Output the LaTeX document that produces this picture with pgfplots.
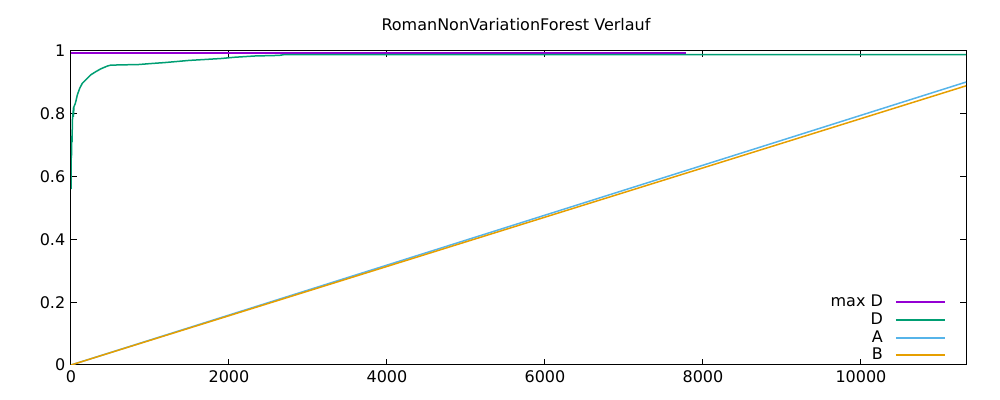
\documentclass[border=0pt]{standalone}
\usepackage{fontspec}
\setmainfont{DejaVu Sans}
\usepackage{pgfplots}
\pgfplotsset{compat=1.18}
\definecolor{colmaxd}{rgb}{0.58,0,0.827}
\definecolor{cold}{rgb}{0,0.62,0.451}
\definecolor{cola}{rgb}{0.337,0.706,0.914}
\definecolor{colb}{rgb}{0.902,0.624,0}
\begin{document}
\fontsize{8pt}{9.6pt}\selectfont
\begin{tikzpicture}
\useasboundingbox (0,0) rectangle (500pt,200pt);
\begin{axis}[
  at={(35.5pt,17.5pt)}, anchor=south west,
  scale only axis, width=447.5pt, height=157pt,
  xmin=0, xmax=11330, ymin=0, ymax=1,
  xtick={0,2000,4000,6000,8000,10000},
  ytick={0,0.2,0.4,0.6,0.8,1},
  tick align=inside, tick pos=both,
  major tick length=3pt,
  scaled ticks=false,
  /pgf/number format/1000 sep={},
  /pgf/number format/assume math mode=true,
  tick label style={font=\fontsize{8pt}{9.6pt}\selectfont},
  axis line style={line width=0.5pt, black},
  every tick/.style={black, line width=0.5pt},
  legend cell align=right,
  legend plot pos=right,
  legend style={draw=none, fill=none, at={(rel axis cs:0.98,-0.012)}, anchor=south east,
    font=\fontsize{8pt}{9.6pt}\selectfont, row sep=-2.2pt, inner sep=1pt,
    /tikz/every odd column/.append style={column sep=4pt}},
  legend image code/.code={\draw[#1, line width=0.9pt] (0pt,0pt) -- (24.5pt,0pt);},
]
\addplot[color=colmaxd, line width=0.8pt] coordinates {(0,0.9935) (7790,0.9935)};
\addlegendentry{max D}
\addplot[color=cold, line width=0.75pt] coordinates {
(0,0.56) (3,0.70) (6,0.66) (9,0.73) (13,0.71) (18,0.78) (25,0.80) (30,0.79) (38,0.823)
(50,0.83) (60,0.838) (80,0.86) (110,0.881) (143,0.897) (186,0.908) (250,0.924)
(313,0.934) (376,0.943) (460,0.952) (503,0.955) (862,0.957) (1010,0.960)
(1180,0.963) (1496,0.970) (1897,0.976) (2066,0.980) (2320,0.984) (2636,0.986)
(2700,0.9885) (11330,0.9885)};
\addlegendentry{D}
\addplot[color=cola, line width=0.75pt] coordinates {(0,0) (11330,0.901)};
\addlegendentry{A}
\addplot[color=colb, line width=0.75pt] coordinates {(0,0) (11330,0.889)};
\addlegendentry{B}
\end{axis}
\node at (258pt,187.5pt) {RomanNonVariationForest Verlauf};
\end{tikzpicture}
\end{document}
